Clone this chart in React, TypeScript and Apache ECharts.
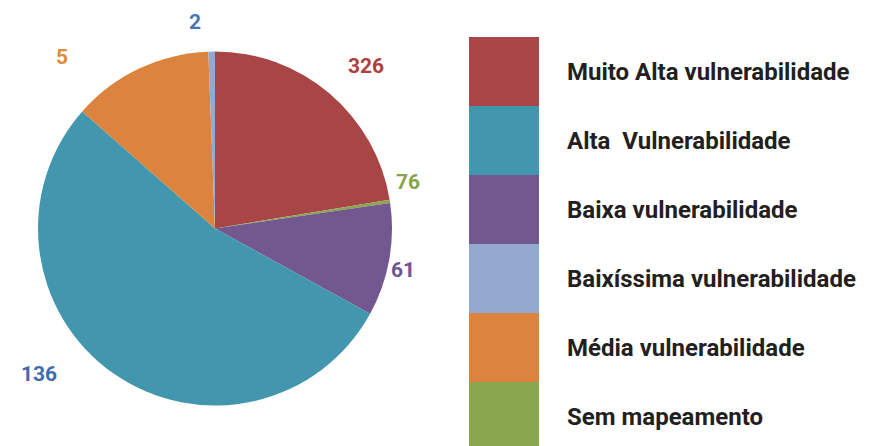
import React, { useEffect, useRef } from "react";
import * as echarts from "echarts";

const categories = [
  "Muito Alta vulnerabilidade",
  "Sem mapeamento",
  "Baixa vulnerabilidade",
  "Alta  Vulnerabilidade",
  "Média vulnerabilidade",
  "Baixíssima vulnerabilidade",
];
// slice shares (angular share, %)
const shares = [22.4, 0.3, 10.3, 53.5, 12.9, 0.6];
// numbers printed next to the slices
const printedLabels = ["326", "76", "61", "136", "5", "2"];
const sliceColors = ["#A84545", "#8AA64E", "#72588E", "#4297AF", "#DC843D", "#94A9D0"];
const labelColors = ["#B04040", "#86A54A", "#6E5490", "#3E6DAE", "#E08A3C", "#4A76B8"];
const legendOrder = [
  "Muito Alta vulnerabilidade",
  "Alta  Vulnerabilidade",
  "Baixa vulnerabilidade",
  "Baixíssima vulnerabilidade",
  "Média vulnerabilidade",
  "Sem mapeamento",
];
// label anchor positions (text placement only)
const labelPos: [number, number][] = [
  [366, 66],
  [408, 182],
  [403, 270],
  [39, 374],
  [62, 57],
  [195, 22],
];

export default function App() {
  const ref = useRef<HTMLDivElement>(null);
  useEffect(() => {
    if (!ref.current) return;
    const chart = echarts.init(ref.current, undefined, { renderer: "svg" });
    chart.setOption({
      animation: false,
      legend: {
        orient: "vertical",
        left: 469,
        top: 37,
        height: 430,
        width: 420,
        padding: 0,
        itemWidth: 70,
        itemHeight: 69,
        itemGap: 0,
        icon: "rect",
        selectedMode: false,
        data: legendOrder,
        textStyle: {
          fontFamily: "Roboto",
          fontWeight: "bold",
          fontSize: 24,
          color: "#231F20",
          padding: [0, 0, 0, 23],
        },
      },
      series: [
        {
          type: "pie",
          center: [215, 228.5],
          radius: 177,
          startAngle: 90,
          clockwise: true,
          itemStyle: { borderWidth: 0 },
          emphasis: { disabled: true },
          labelLine: { show: false },
          label: {
            show: true,
            position: "outside",
            fontFamily: "Roboto",
            fontWeight: "bold",
            fontSize: 21,
            formatter: (p: any) => printedLabels[p.dataIndex],
          },
          labelLayout: (p: any) => ({
            x: labelPos[p.dataIndex][0],
            y: labelPos[p.dataIndex][1],
            align: "center",
            verticalAlign: "middle",
          }),
          data: categories.map((name, i) => ({
            name,
            value: shares[i],
            itemStyle: { color: sliceColors[i] },
            label: { color: labelColors[i] },
          })),
        },
      ],
    });
    return () => chart.dispose();
  }, []);
  return (
    <div
      ref={ref}
      style={{ position: "absolute", left: 0, top: 0, width: 877, height: 446, background: "#fff" }}
    />
  );
}
